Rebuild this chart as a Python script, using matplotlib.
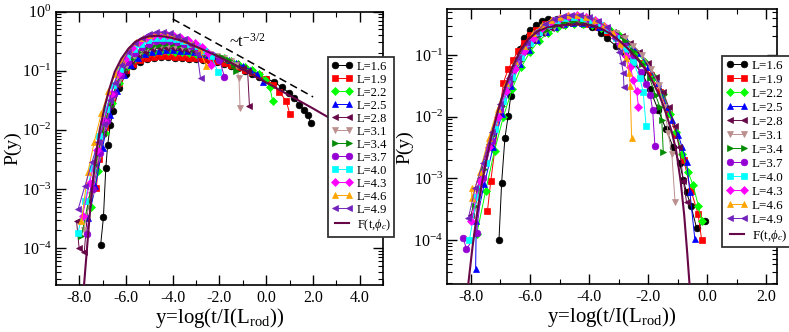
import numpy as np
import matplotlib
matplotlib.use("Agg")
import matplotlib.pyplot as plt
from matplotlib.lines import Line2D
from matplotlib.ticker import MultipleLocator, FormatStrFormatter, LogLocator

plt.rcParams["font.family"] = "serif"
plt.rcParams["font.serif"] = ["Liberation Serif", "DejaVu Serif"]
plt.rcParams["mathtext.fontset"] = "custom"
plt.rcParams["mathtext.rm"] = "Liberation Serif"
plt.rcParams["mathtext.it"] = "Liberation Serif:italic"
plt.rcParams["axes.unicode_minus"] = False

# series labels / colours (values are log10 P(y))
labels = ["L=1.6", "L=1.9", "L=2.2", "L=2.5", "L=2.8", "L=3.1",
          "L=3.4", "L=3.7", "L=4.0", "L=4.3", "L=4.6", "L=4.9"]
colors = ["#000000", "#ff0000", "#00ff00", "#0000ff", "#670748", "#bc8f8f",
          "#008b00", "#9400d3", "#00ffff", "#ff00ff", "#ffa500", "#7221bc"]
markers = ["o", "s", "D", "^", "<", "v", ">", "o", "s", "D", "^", "<"]
curve_color = "#670748"

# ---------------- left panel data ----------------
left_16 = [(-7.08, -3.95), (-6.96, -3.48), (-6.86, -2.65), (-6.78, -2.26), (-6.67, -1.92), (-6.55, -1.68),
           (-6.3, -1.3), (-6.0, -1.05), (-5.7, -0.92), (-5.4, -0.85), (-5.1, -0.8), (-4.8, -0.78),
           (-4.5, -0.77), (-4.2, -0.77), (-3.9, -0.78), (-3.6, -0.79), (-3.3, -0.8), (-3.0, -0.81),
           (-2.7, -0.82), (-2.4, -0.84), (-2.1, -0.86), (-1.8, -0.88), (-1.5, -0.92), (-1.2, -0.96),
           (-0.9, -1.0), (-0.6, -1.05), (-0.3, -1.1), (0.0, -1.14), (0.35, -1.19), (0.65, -1.28),
           (0.99, -1.38), (1.2, -1.47), (1.41, -1.58), (1.6, -1.66), (1.78, -1.75), (1.91, -1.89)]
left_19 = [(-7.26, -2.98), (-7.16, -2.49), (-6.9, -1.95), (-6.6, -1.5), (-6.3, -1.2), (-6.0, -0.98),
           (-5.7, -0.88), (-5.4, -0.82), (-5.1, -0.78), (-4.8, -0.76), (-4.5, -0.75), (-4.2, -0.75),
           (-3.9, -0.76), (-3.6, -0.77), (-3.3, -0.78), (-3.0, -0.79), (-2.7, -0.8), (-2.4, -0.82),
           (-2.1, -0.84), (-1.8, -0.87), (-1.5, -0.9), (-1.2, -0.94), (-0.9, -0.98), (-0.6, -1.03),
           (-0.3, -1.08), (0.0, -1.14), (0.3, -1.25), (0.55, -1.36), (0.85, -1.51), (1.01, -1.74)]
left_22 = [(-7.5, -3.3), (-7.2, -2.7), (-6.9, -2.05), (-6.6, -1.55), (-6.3, -1.2), (-6.0, -0.95),
           (-5.7, -0.82), (-5.4, -0.74), (-5.1, -0.7), (-4.8, -0.68), (-4.5, -0.67), (-4.2, -0.67),
           (-3.9, -0.68), (-3.6, -0.69), (-3.3, -0.7), (-3.0, -0.71), (-2.7, -0.72), (-2.4, -0.74),
           (-2.1, -0.76), (-1.8, -0.79), (-1.5, -0.83), (-1.2, -0.88), (-0.9, -0.93), (-0.6, -0.99),
           (-0.3, -1.05), (-0.05, -1.15), (0.15, -1.28), (0.27, -1.51)]
left_25 = [(-7.6, -3.5), (-7.3, -2.95), (-7.0, -2.3), (-6.7, -1.75), (-6.4, -1.35), (-6.1, -1.07),
           (-5.8, -0.9), (-5.5, -0.79), (-5.2, -0.72), (-4.9, -0.68), (-4.6, -0.66), (-4.3, -0.65),
           (-4.0, -0.65), (-3.7, -0.66), (-3.4, -0.67), (-3.1, -0.69), (-2.8, -0.71), (-2.5, -0.73),
           (-2.2, -0.75), (-1.9, -0.78), (-1.6, -0.82), (-1.3, -0.87), (-1.0, -0.92), (-0.7, -0.98),
           (-0.4, -1.06), (-0.14, -1.19)]
left_28 = [(-8.11, -3.54), (-8.0, -4.0), (-7.78, -4.07), (-7.6, -3.2), (-7.3, -2.6), (-7.0, -2.05),
           (-6.7, -1.6), (-6.4, -1.25), (-6.1, -1.0), (-5.8, -0.84), (-5.5, -0.74), (-5.2, -0.68),
           (-4.9, -0.64), (-4.6, -0.62), (-4.3, -0.61), (-4.0, -0.62), (-3.7, -0.63), (-3.4, -0.65),
           (-3.1, -0.67), (-2.8, -0.7), (-2.5, -0.73), (-2.2, -0.76), (-1.9, -0.8), (-1.6, -0.84),
           (-1.3, -0.89), (-1.0, -0.95), (-0.8, -1.0), (-0.72, -1.6)]
left_31 = [(-7.8, -3.7), (-7.5, -3.1), (-7.2, -2.5), (-6.9, -1.95), (-6.6, -1.5), (-6.3, -1.17),
           (-6.0, -0.93), (-5.7, -0.78), (-5.4, -0.68), (-5.1, -0.62), (-4.8, -0.59), (-4.5, -0.57),
           (-4.2, -0.57), (-3.9, -0.58), (-3.6, -0.6), (-3.3, -0.62), (-3.0, -0.65), (-2.7, -0.68),
           (-2.4, -0.71), (-2.1, -0.75), (-1.8, -0.79), (-1.5, -0.84), (-1.3, -0.9), (-1.17, -1.12),
           (-1.12, -1.63)]
left_34 = [(-7.9, -3.8), (-7.6, -3.2), (-7.3, -2.6), (-7.0, -2.05), (-6.7, -1.6), (-6.4, -1.22),
           (-6.1, -0.97), (-5.8, -0.8), (-5.5, -0.69), (-5.2, -0.62), (-4.9, -0.58), (-4.6, -0.56),
           (-4.3, -0.55), (-4.0, -0.55), (-3.7, -0.57), (-3.4, -0.59), (-3.1, -0.62), (-2.8, -0.65),
           (-2.5, -0.69), (-2.2, -0.73), (-1.9, -0.77), (-1.6, -0.82), (-1.4, -0.9), (-1.3, -1.0)]
left_37 = [(-7.68, -3.76), (-7.4, -3.0), (-7.1, -2.4), (-6.8, -1.85), (-6.5, -1.4), (-6.2, -1.08),
           (-5.9, -0.85), (-5.6, -0.7), (-5.3, -0.6), (-5.0, -0.54), (-4.7, -0.5), (-4.4, -0.49),
           (-4.1, -0.49), (-3.8, -0.51), (-3.5, -0.54), (-3.2, -0.58), (-2.9, -0.62), (-2.6, -0.67),
           (-2.3, -0.73), (-2.0, -0.82), (-1.79, -1.1)]
left_40 = [(-8.04, -3.74), (-7.75, -3.2), (-7.45, -2.65), (-7.15, -2.1), (-6.85, -1.65), (-6.55, -1.25),
           (-6.25, -0.97), (-5.95, -0.77), (-5.65, -0.63), (-5.35, -0.54), (-5.05, -0.48), (-4.75, -0.45),
           (-4.45, -0.44), (-4.15, -0.45), (-3.85, -0.47), (-3.55, -0.5), (-3.25, -0.54), (-2.95, -0.59),
           (-2.65, -0.66), (-2.35, -0.75), (-2.07, -1.02)]
left_43 = [(-7.85, -3.45), (-7.55, -2.9), (-7.25, -2.35), (-6.95, -1.85), (-6.65, -1.4), (-6.35, -1.05),
           (-6.05, -0.8), (-5.75, -0.62), (-5.45, -0.51), (-5.15, -0.45), (-4.85, -0.41), (-4.55, -0.39),
           (-4.25, -0.39), (-3.95, -0.41), (-3.65, -0.44), (-3.35, -0.48), (-3.05, -0.53), (-2.75, -0.6),
           (-2.5, -0.7), (-2.35, -0.9)]
left_46 = [(-7.9, -3.55), (-7.62, -2.71), (-7.35, -2.2), (-7.05, -1.72), (-6.75, -1.35), (-6.45, -1.05),
           (-6.15, -0.82), (-5.85, -0.64), (-5.55, -0.52), (-5.25, -0.44), (-4.95, -0.39), (-4.65, -0.37),
           (-4.35, -0.37), (-4.05, -0.39), (-3.75, -0.43), (-3.45, -0.48), (-3.15, -0.55), (-2.85, -0.65),
           (-2.57, -0.92)]
left_49 = [(-8.04, -3.34), (-7.75, -2.95), (-7.45, -2.55), (-7.19, -2.2), (-6.95, -1.9), (-6.7, -1.5),
           (-6.48, -1.2), (-6.2, -0.9), (-5.9, -0.68), (-5.6, -0.53), (-5.3, -0.44), (-5.0, -0.38),
           (-4.7, -0.35), (-4.4, -0.35), (-4.1, -0.37), (-3.8, -0.41), (-3.5, -0.47), (-3.2, -0.56),
           (-2.95, -0.72), (-2.81, -1.13)]
left_curve = [(-7.85, -5.0), (-7.79, -4.63), (-7.6, -3.7), (-7.45, -3.0), (-7.3, -2.5), (-7.12, -2.0),
              (-6.9, -1.6), (-6.7, -1.3), (-6.48, -1.02), (-6.2, -0.8), (-5.9, -0.63), (-5.6, -0.51),
              (-5.3, -0.45), (-5.0, -0.42), (-4.7, -0.41), (-4.4, -0.42), (-4.1, -0.44), (-3.8, -0.47),
              (-3.5, -0.51), (-3.2, -0.56), (-2.9, -0.61), (-2.5, -0.68), (-2.0, -0.77), (-1.5, -0.87),
              (-1.0, -0.98), (-0.5, -1.09), (0.0, -1.2), (0.5, -1.31), (1.0, -1.42), (1.5, -1.53),
              (2.0, -1.64), (2.7, -1.8), (3.5, -1.97), (4.2, -2.13), (5.0, -2.3)]
slope_x = [-4.0, 2.0]
slope_p = [0.75, 0.036]

# ---------------- right panel data ----------------
right_16 = [(-7.05, -4.0), (-6.96, -3.07), (-6.85, -2.35), (-6.74, -1.99), (-6.65, -1.66), (-6.5, -1.2),
            (-6.35, -0.9), (-6.2, -0.72), (-6.0, -0.6), (-5.8, -0.52), (-5.6, -0.45), (-5.4, -0.42),
            (-5.1, -0.42), (-4.8, -0.44), (-4.5, -0.47), (-4.2, -0.5), (-3.9, -0.55), (-3.6, -0.64),
            (-3.4, -0.73), (-3.1, -0.85), (-2.8, -0.98), (-2.5, -1.13), (-2.2, -1.3), (-1.95, -1.55),
            (-1.66, -1.89), (-1.4, -2.2), (-1.15, -2.5), (-0.93, -2.76), (-0.81, -3.03), (-0.7, -3.23),
            (-0.55, -3.45), (-0.36, -3.81), (-0.08, -3.7)]
right_19 = [(-7.44, -3.53), (-7.33, -3.05), (-6.9, -1.45), (-6.74, -1.23), (-6.57, -1.08), (-6.4, -0.93),
            (-6.2, -0.8), (-6.0, -0.68), (-5.8, -0.59), (-5.5, -0.5), (-5.2, -0.46), (-4.9, -0.44),
            (-4.6, -0.45), (-4.3, -0.47), (-4.0, -0.5), (-3.7, -0.55), (-3.4, -0.62), (-3.1, -0.71),
            (-2.8, -0.83), (-2.5, -0.97), (-2.2, -1.13), (-1.9, -1.33), (-1.6, -1.6), (-1.3, -1.95),
            (-1.05, -2.3), (-0.8, -2.7), (-0.55, -3.2), (-0.31, -3.58), (-0.19, -4.0)]
right_22 = [(-7.8, -3.9), (-7.5, -3.2), (-7.2, -2.55), (-6.9, -2.0), (-6.6, -1.55), (-6.3, -1.2),
            (-6.0, -0.95), (-5.7, -0.77), (-5.4, -0.65), (-5.1, -0.57), (-4.8, -0.52), (-4.5, -0.5),
            (-4.2, -0.5), (-3.9, -0.52), (-3.6, -0.56), (-3.3, -0.6), (-3.0, -0.68), (-2.7, -0.8),
            (-2.4, -0.95), (-2.1, -1.12), (-1.8, -1.35), (-1.5, -1.63), (-1.25, -1.95), (-1.05, -2.25),
            (-0.85, -2.6), (-0.65, -2.9), (-0.48, -3.11), (-0.3, -3.45), (-0.19, -3.69)]
right_25 = [(-7.84, -4.47), (-7.82, -3.7), (-7.55, -3.1), (-7.25, -2.5), (-6.95, -1.95), (-6.65, -1.5),
            (-6.35, -1.15), (-6.05, -0.92), (-5.75, -0.75), (-5.45, -0.63), (-5.15, -0.55), (-4.85, -0.5),
            (-4.55, -0.48), (-4.25, -0.48), (-3.95, -0.5), (-3.65, -0.54), (-3.35, -0.58), (-3.05, -0.65),
            (-2.75, -0.76), (-2.5, -0.87), (-2.28, -0.97), (-2.0, -1.2), (-1.66, -1.46), (-1.37, -1.84),
            (-1.18, -2.05), (-0.98, -2.3), (-0.85, -2.5), (-0.7, -2.73), (-0.59, -3.22), (-0.42, -3.99)]
right_28 = [(-8.0, -3.6), (-7.7, -3.0), (-7.4, -2.45), (-7.1, -1.95), (-6.8, -1.52), (-6.5, -1.17),
            (-6.2, -0.93), (-5.9, -0.76), (-5.6, -0.64), (-5.3, -0.56), (-5.0, -0.51), (-4.7, -0.48),
            (-4.4, -0.47), (-4.1, -0.48), (-3.8, -0.51), (-3.5, -0.56), (-3.2, -0.62), (-2.9, -0.7),
            (-2.6, -0.8), (-2.3, -0.95), (-2.0, -1.13), (-1.75, -1.35), (-1.5, -1.6), (-1.3, -1.85),
            (-1.1, -2.15), (-0.95, -2.5), (-0.81, -3.04), (-0.7, -3.39)]
right_31 = [(-7.9, -3.5), (-7.6, -2.9), (-7.3, -2.35), (-7.0, -1.9), (-6.7, -1.48), (-6.4, -1.15),
            (-6.1, -0.91), (-5.8, -0.74), (-5.5, -0.62), (-5.2, -0.54), (-4.9, -0.49), (-4.6, -0.46),
            (-4.3, -0.46), (-4.0, -0.48), (-3.7, -0.52), (-3.4, -0.57), (-3.1, -0.64), (-2.8, -0.73),
            (-2.5, -0.85), (-2.2, -1.0), (-1.9, -1.22), (-1.65, -1.48), (-1.45, -1.85), (-1.32, -2.27),
            (-1.2, -2.6), (-1.09, -3.39)]
right_34 = [(-7.85, -3.45), (-7.55, -2.85), (-7.25, -2.3), (-6.95, -1.83), (-6.65, -1.42), (-6.35, -1.1),
            (-6.05, -0.87), (-5.75, -0.7), (-5.45, -0.59), (-5.15, -0.51), (-4.85, -0.47), (-4.55, -0.45),
            (-4.25, -0.45), (-3.95, -0.47), (-3.65, -0.5), (-3.35, -0.56), (-3.05, -0.66), (-2.8, -0.78),
            (-2.5, -0.94), (-2.2, -1.14), (-1.95, -1.38), (-1.75, -1.65), (-1.6, -1.85), (-1.54, -2.05),
            (-1.49, -2.57)]
right_37 = [(-8.26, -3.97), (-8.15, -4.15), (-7.81, -3.89), (-7.6, -3.0), (-7.3, -2.4), (-7.0, -1.9),
            (-6.7, -1.45), (-6.4, -1.1), (-6.1, -0.84), (-5.8, -0.65), (-5.5, -0.52), (-5.2, -0.44),
            (-4.9, -0.4), (-4.6, -0.38), (-4.3, -0.38), (-4.0, -0.41), (-3.7, -0.47), (-3.4, -0.57),
            (-3.1, -0.7), (-2.8, -0.85), (-2.5, -1.05), (-2.25, -1.28), (-2.07, -1.47), (-1.93, -1.65),
            (-1.85, -1.89), (-1.77, -2.48)]
right_40 = [(-8.05, -4.0), (-7.8, -3.3), (-7.5, -2.75), (-7.2, -2.2), (-6.9, -1.75), (-6.6, -1.35),
            (-6.3, -1.04), (-6.0, -0.8), (-5.7, -0.63), (-5.4, -0.51), (-5.1, -0.44), (-4.8, -0.4),
            (-4.5, -0.39), (-4.2, -0.4), (-3.9, -0.44), (-3.6, -0.52), (-3.4, -0.6), (-3.1, -0.73),
            (-2.8, -0.9), (-2.5, -1.12), (-2.28, -1.38), (-2.17, -1.6), (-2.07, -2.16)]
right_43 = [(-8.0, -3.7), (-7.7, -3.05), (-7.4, -2.5), (-7.1, -2.0), (-6.8, -1.58), (-6.5, -1.22),
            (-6.2, -0.94), (-5.9, -0.72), (-5.6, -0.56), (-5.3, -0.46), (-5.0, -0.4), (-4.7, -0.37),
            (-4.4, -0.36), (-4.1, -0.38), (-3.8, -0.44), (-3.5, -0.53), (-3.2, -0.66), (-2.95, -0.82),
            (-2.75, -1.02), (-2.6, -1.2), (-2.5, -1.41), (-2.39, -1.59), (-2.33, -1.84)]
right_46 = [(-7.98, -3.16), (-7.97, -3.32), (-7.7, -2.9), (-7.4, -2.35), (-7.1, -1.88), (-6.8, -1.45),
            (-6.5, -1.1), (-6.2, -0.85), (-5.9, -0.65), (-5.6, -0.52), (-5.3, -0.43), (-5.0, -0.38),
            (-4.7, -0.36), (-4.4, -0.36), (-4.1, -0.38), (-3.8, -0.43), (-3.5, -0.51), (-3.2, -0.64),
            (-2.95, -0.82), (-2.75, -1.05), (-2.64, -1.3), (-2.61, -1.51), (-2.56, -2.35)]
right_49 = [(-8.09, -3.65), (-7.85, -3.15), (-7.6, -2.75), (-7.3, -2.25), (-7.0, -1.8), (-6.7, -1.38),
            (-6.4, -1.05), (-6.1, -0.8), (-5.8, -0.62), (-5.5, -0.5), (-5.2, -0.42), (-4.9, -0.37),
            (-4.6, -0.35), (-4.3, -0.35), (-4.0, -0.38), (-3.7, -0.45), (-3.4, -0.55), (-3.15, -0.72),
            (-2.98, -0.95), (-2.9, -1.13), (-2.84, -1.29), (-2.82, -1.52)]
right_curve = [(-8.15, -5.0), (-8.1, -4.76), (-7.95, -4.13), (-7.8, -3.59), (-7.65, -3.14), (-7.5, -2.75),
               (-7.3, -2.31), (-7.1, -1.93), (-6.85, -1.53), (-6.6, -1.2), (-6.34, -0.94), (-6.05, -0.74),
               (-5.75, -0.62), (-5.45, -0.56), (-5.1, -0.525), (-4.7, -0.51), (-4.3, -0.505), (-3.95, -0.52),
               (-3.6, -0.57), (-3.3, -0.65), (-3.0, -0.76), (-2.7, -0.89), (-2.4, -1.05), (-2.1, -1.23),
               (-1.85, -1.43), (-1.6, -1.68), (-1.4, -1.94), (-1.2, -2.25), (-1.05, -2.56), (-0.9, -3.05),
               (-0.78, -3.6), (-0.68, -4.2), (-0.6, -4.72), (-0.55, -5.0)]

left_series = [left_16, left_19, left_22, left_25, left_28, left_31,
               left_34, left_37, left_40, left_43, left_46, left_49]
right_series = [right_16, right_19, right_22, right_25, right_28, right_31,
                right_34, right_37, right_40, right_43, right_46, right_49]

fig = plt.figure(figsize=(7.89, 3.32), dpi=100)
ax1 = fig.add_axes([0.0706, 0.1416, 0.4152, 0.8235])
ax2 = fig.add_axes([0.5669, 0.1437, 0.4175, 0.8283])


def msize(m):
    return 4.0 if m == "D" else 4.8


def draw_panel(ax, series, curve, xlim, ylim, xmajor):
    for pts, c, m in zip(series, colors, markers):
        x = np.array([p[0] for p in pts])
        y = 10.0 ** np.array([p[1] for p in pts])
        ax.plot(x, y, color=c, lw=0.7, marker=m, ms=msize(m), mec=c, mew=0.5)
    cx = np.array([p[0] for p in curve])
    cy = 10.0 ** np.array([p[1] for p in curve])
    ax.plot(cx, cy, color=curve_color, lw=1.5, zorder=5)
    ax.set_yscale("log")
    ax.set_xlim(*xlim)
    ax.set_ylim(*ylim)
    ax.xaxis.set_major_locator(MultipleLocator(xmajor))
    ax.xaxis.set_minor_locator(MultipleLocator(1))
    ax.xaxis.set_major_formatter(FormatStrFormatter("%.1f"))
    ax.yaxis.set_major_locator(LogLocator(base=10))
    ax.yaxis.set_minor_locator(LogLocator(base=10, subs=np.arange(2, 10)))
    ax.tick_params(which="both", direction="in", top=True, right=True, labelsize=11.5)
    ax.tick_params(which="major", length=7, width=1.0)
    ax.tick_params(which="minor", length=3.5, width=0.8)
    ax.tick_params(axis="y", pad=3)
    for s in ax.spines.values():
        s.set_linewidth(1.2)
    ax.set_xlabel(r"y=log(t/I(L$_{\rm rod}$))", fontsize=15, labelpad=0)
    ax.set_ylabel("P(y)", fontsize=14, labelpad=0)


def add_legend(ax, anchor, size, spacing):
    handles = [Line2D([], [], color=c, lw=0.7, marker=m, ms=msize(m), mec=c, mew=0.5)
               for c, m in zip(colors, markers)]
    handles.append(Line2D([], [], color=curve_color, lw=1.5))
    leg = ax.legend(handles, labels + [r"F(t,$\phi_{c}$)"], loc="upper left",
                    bbox_to_anchor=anchor, bbox_transform=fig.transFigure,
                    numpoints=2, fontsize=size, frameon=True, fancybox=False,
                    edgecolor="#333333", framealpha=1, handlelength=1.7,
                    handletextpad=0.3, labelspacing=spacing, borderpad=0.3,
                    borderaxespad=0)
    leg.get_frame().set_linewidth(1.3)
    leg.set_zorder(20)


draw_panel(ax1, left_series, left_curve, (-9, 5), (2.37e-5, 1.0), 2)
ax1.plot(slope_x, slope_p, color="black", lw=1.1, ls=(0, (5, 3)))
ax1.text(-1.6, 10 ** -0.59, r"~t$^{-3/2}$", fontsize=12, ha="left", va="baseline")
add_legend(ax1, (0.4157, 0.8283), 9.0, 0.08)

draw_panel(ax2, right_series, right_curve, (-8.8, 2.35), (1.91e-5, 0.55), 2)
add_legend(ax2, (0.9151, 0.8313), 9.4, 0.14)

fig.savefig("out.png", dpi=100)
